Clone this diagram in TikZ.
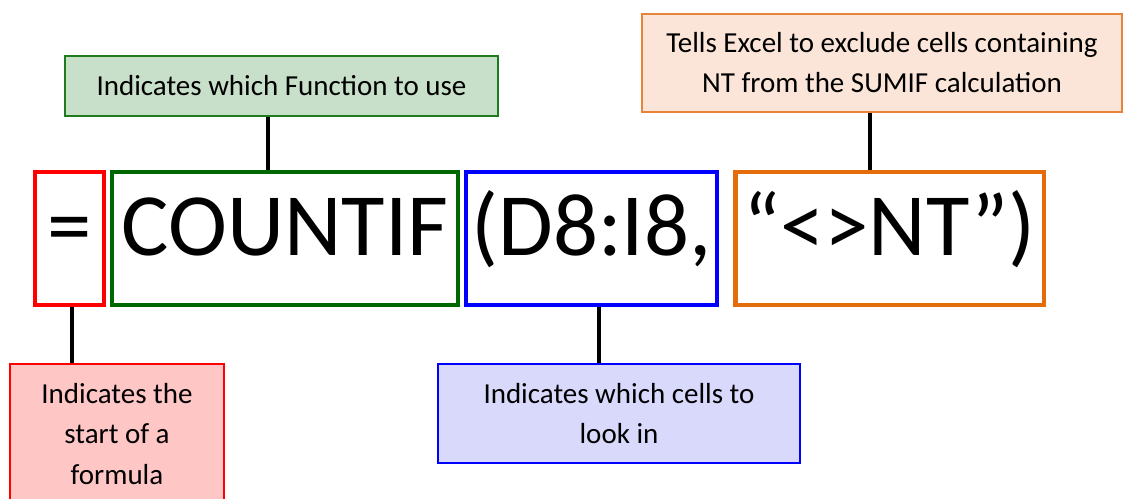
\documentclass[tikz,border=0pt]{standalone}
\usepackage{fontspec}
\setmainfont{Carlito}
\usetikzlibrary{calc,positioning}
\definecolor{xlred}{HTML}{FF0000}
\definecolor{xlgreen}{HTML}{006600}
\definecolor{xlblue}{HTML}{0000FF}
\definecolor{xlorange}{HTML}{E46C0A}
\definecolor{grnline}{HTML}{1E7B1E}
\definecolor{grnfill}{HTML}{C8DFC9}
\definecolor{redfill}{HTML}{FFC6C6}
\definecolor{bluefill}{HTML}{D9D9FC}
\definecolor{orgline}{HTML}{E8843A}
\definecolor{orgfill}{HTML}{FAE5D8}
\tikzset{part/.style={draw,line width=2.8pt,inner sep=0pt,text height=1.68cm,text depth=0.98cm,font=\fontsize{50.6}{60}\selectfont},
  note/.style={draw,line width=1pt,align=center,inner sep=0pt,font=\fontsize{16.5}{22.8}\selectfont},
  link/.style={line width=2.8pt}}

\begin{document}
\begin{tikzpicture}[x=0.02cm,y=-0.02cm]
\useasboundingbox (0,0) rectangle (1135,499);
% --- the formula, piece by piece
\node[part,draw=xlred,minimum width=1.38cm,anchor=base] (eq) at (69.5,256) {=};
\node[part,draw=xlgreen,minimum width=6.92cm,anchor=base] (countif) at (285,256) {COUNTIF};
\node[part,draw=xlblue,minimum width=5.02cm,anchor=base] (range) at (591.5,256) {(D8:I8,};
\node[part,draw=xlorange,minimum width=6.18cm,anchor=base] (crit) at (889.5,256) {“<>NT”)};
% --- what each piece does
\node[note,draw=grnline,fill=grnfill,minimum width=8.66cm,minimum height=1.2cm] (fnlabel) at (281.5,86) {Indicates which Function to use};
\node[note,draw=orgline,fill=orgfill,minimum width=9.6cm,minimum height=1.96cm] (critlabel) at (882,63) {Tells Excel to exclude cells containing\\ NT from the SUMIF calculation};
\node[note,draw=xlred,fill=redfill,minimum width=4.28cm,minimum height=2.8cm] (startlabel) at (117,434) {Indicates the\\ start of a\\ formula};
\node[note,draw=xlblue,fill=bluefill,minimum width=7.24cm,minimum height=1.98cm] (rangelabel) at (619,413.5) {Indicates which cells to\\ look in};
% --- connectors
\draw[link] ($(fnlabel.south)+(-13.5,0)$) coordinate (a) -- (a |- countif.north);
\draw[link] ($(critlabel.south)+(-12,0)$) coordinate (b) -- (b |- crit.north);
\draw[link] ($(eq.south)+(2.5,0)$) coordinate (c) -- (c |- startlabel.north);
\draw[link] ($(range.south)+(7.5,0)$) coordinate (d) -- (d |- rangelabel.north);
\end{tikzpicture}
\end{document}
